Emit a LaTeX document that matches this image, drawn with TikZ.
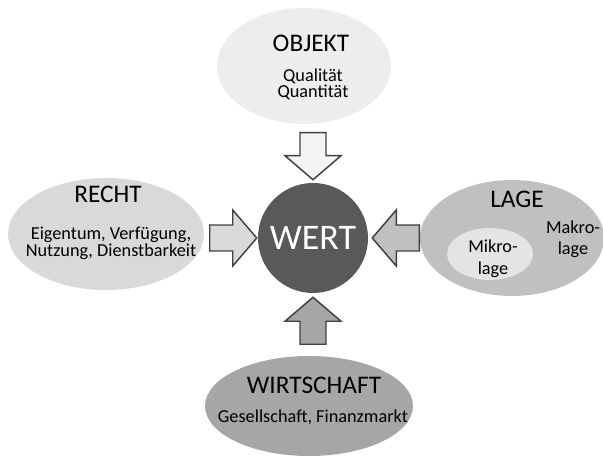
\documentclass[tikz,border=0pt]{standalone}
\usepackage{fontspec}
\setmainfont{Carlito}
\usetikzlibrary{shapes.geometric,calc}
\definecolor{objgray}{HTML}{EDEDED}
\definecolor{rechtgray}{HTML}{D9D9D9}
\definecolor{lagegray}{HTML}{C0C0C0}
\definecolor{mikrogray}{HTML}{E4E4E4}
\definecolor{wirtgray}{HTML}{A6A6A6}
\definecolor{wertgray}{HTML}{595959}
\definecolor{randgray}{HTML}{404040}
\tikzset{
  blob/.style={ellipse,inner sep=0pt},
  titel/.style={font=\fontsize{19}{21}\selectfont,anchor=base,inner sep=0pt},
  unter/.style={font=\fontsize{13.7}{11.25}\selectfont,align=center,anchor=base,inner sep=0pt},
  blockpfeil/.style={draw=randgray,line width=1.1pt,line join=miter}
}
% fill, tip, direction
\newcommand{\BlockPfeil}[3]{%
  \draw[blockpfeil,fill=#1,shift={(#2)},rotate=#3]
    (0,0)--(-24,28)--(-24,13)--(-47,13)--(-47,-13)--(-24,-13)--(-24,-28)--cycle;}
\begin{document}
\begin{tikzpicture}[x=0.75pt,y=0.75pt]
\useasboundingbox (0,0) rectangle (603,457);
% ellipses
\node[blob,fill=objgray,minimum width=130.5pt,minimum height=87pt] (objekt) at (304,391) {};
\node[blob,fill=rechtgray,minimum width=147pt,minimum height=84pt] (recht) at (106,223) {};
\node[blob,fill=lagegray,minimum width=138pt,minimum height=87pt] (lage) at (512,219) {};
\node[blob,fill=mikrogray,minimum width=64.5pt,minimum height=39pt] (mikro) at (490,203) {};
\node[blob,fill=wirtgray,minimum width=156pt,minimum height=75pt] (wirtschaft) at (309,51) {};
\node[circle,fill=wertgray,minimum size=82.5pt,inner sep=0pt,text=white,
  font=\fontsize{27}{30}\selectfont] (wert) at (313,219) {WERT};
% texts (base = last line)
\node[titel] (objT) at (311,405) {OBJEKT};
\node[unter] (objS) at (313,359) {Qualität\\Quantität};
\node[titel] (rechtT) at (108,254) {RECHT};
\node[unter] (rechtS) at (111,200) {Eigentum, Verfügung,\\Nutzung, Dienstbarkeit};
\node[titel] (lageT) at (517,249) {LAGE};
\node[unter,font=\fontsize{13.7}{16}\selectfont] (makroS) at (573,202) {Makro-\\lage};
\node[unter,font=\fontsize{13.7}{16.5}\selectfont] (mikroS) at (493,182) {Mikro-\\lage};
\node[titel] (wirtT) at (314,64) {WIRTSCHAFT};
\node[unter] (wirtS) at (313,35) {Gesellschaft, Finanzmarkt};
% arrows
\coordinate (tipO) at ($(wert.north)+(0,3)$);
\coordinate (tipW) at ($(wert.south)+(0,-4)$);
\coordinate (tipR) at ($(wert.west)+(-1,0)$);
\coordinate (tipL) at ($(wert.east)+(4,0)$);
\BlockPfeil{objgray!60!white}{tipO}{-90}
\BlockPfeil{wirtgray}{tipW}{90}
\BlockPfeil{rechtgray}{tipR}{0}
\BlockPfeil{lagegray}{tipL}{180}
\end{tikzpicture}
\end{document}
